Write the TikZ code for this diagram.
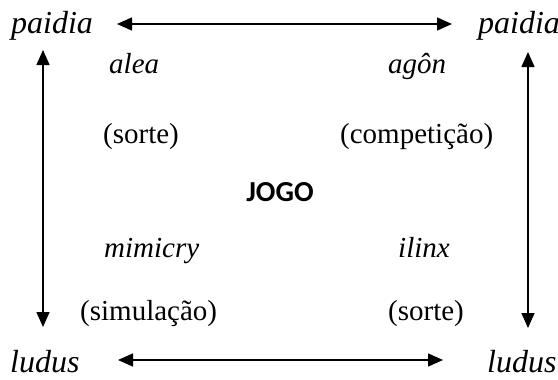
\documentclass[tikz,border=0pt]{standalone}
\usepackage{fontspec}
\setmainfont{Liberation Serif}
\newfontfamily\jogofont{Carlito}
\usetikzlibrary{arrows.meta}
\begin{document}
\begin{tikzpicture}[x=1pt,y=-1pt,
  lbl/.style={inner sep=0pt,anchor=base west,font=\fontsize{29}{34}\selectfont},
  it/.style={lbl,font=\fontsize{29}{34}\selectfont\itshape},
  corner/.style={lbl,font=\fontsize{32}{38}\selectfont\itshape},
  arr/.style={line width=1.6pt,{Triangle[length=15pt,width=13pt]}-{Triangle[length=15pt,width=13pt]}}]
\useasboundingbox (0,0) rectangle (558,380);
\node[corner] (pl) at (11,34) {paidia};
\node[corner] (pr) at (478,34) {paidia};
\node[it] (al) at (109,73) {alea};
\node[it] (ag) at (388,73) {agôn};
\node[lbl] (so1) at (103,143) {(sorte)};
\node[lbl] (co) at (340,143) {(competição)};
\node[inner sep=0pt,font=\jogofont\bfseries\fontsize{29}{34}\selectfont] (jo) at (280,192) {JOGO};
\node[it] (mi) at (104,257) {mimicry};
\node[it] (il) at (398,257) {ilinx};
\node[lbl] (si) at (80,320) {(simulação)};
\node[lbl] (so2) at (388,320) {(sorte)};
\node[corner] (ll) at (10,372) {ludus};
\node[corner] (lr) at (487,372) {ludus};
\coordinate (t1) at (117,24);
\coordinate (t2) at (452,24);
\coordinate (b1) at (118,360);
\coordinate (b2) at (443,360);
\coordinate (l1) at (43,50);
\coordinate (l2) at (43,327);
\coordinate (r1) at (528,52);
\coordinate (r2) at (528,328);
\draw[arr] (t1) -- (t2);
\draw[arr] (b1) -- (b2);
\draw[arr] (l1) -- (l2);
\draw[arr] (r1) -- (r2);
\end{tikzpicture}
\end{document}
